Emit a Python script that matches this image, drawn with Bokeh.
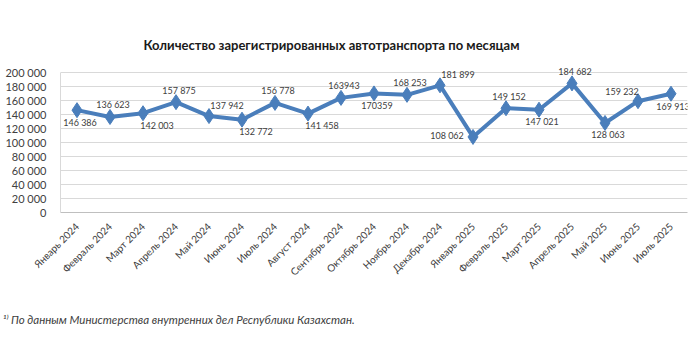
import math
from bokeh.plotting import figure
from bokeh.models import ColumnDataSource, FactorRange, Range1d, Title, FixedTicker
from bokeh.embed import file_html
from bokeh.resources import INLINE

months = ["Январь 2024", "Февраль 2024", "Март 2024", "Апрель 2024", "Май 2024",
          "Июнь 2024", "Июль 2024", "Август 2024", "Сентябрь 2024", "Октябрь 2024",
          "Ноябрь 2024", "Декабрь 2024", "Январь 2025", "Февраль 2025", "Март 2025",
          "Апрель 2025", "Май 2025", "Июнь 2025", "Июль 2025"]
vehicles = [146386, 136623, 142003, 157875, 137942, 132772, 156778, 141458, 163943,
            170359, 168253, 181899, 108062, 149152, 147021, 184682, 128063, 159232, 169913]
value_labels = ["146 386", "136 623", "142 003", "157 875", "137 942", "132 772", "156 778",
                "141 458", "163943", "170359", "168 253", "181 899", "108 062", "149 152",
                "147 021", "184 682", "128 063", "159 232", "169 913"]
y_ticks = [0, 20000, 40000, 60000, 80000, 100000, 120000, 140000, 160000, 180000, 200000]
y_tick_labels = ["0", "20 000", "40 000", "60 000", "80 000", "100 000", "120 000",
                 "140 000", "160 000", "180 000", "200 000"]

title_text = "Количество зарегистрированных автотранспорта по месяцам"
footnote_text = "¹⁾ По данным Министерства внутренних дел Республики Казахстан."

# label placement (style)
placement = ["below", "above", "below_r", "above", "above_r", "below_r", "above", "below_r",
             "above", "below", "above", "above_r", "left", "above", "below", "above",
             "below", "above_l", "right"]
offsets = {
    "below": (3, -12), "above": (3, 12), "below_r": (14, -12), "above_r": (18, 11),
    "above_l": (-16, 10), "left": (-26, 1), "right": (2, -13),
}

FONT = "Lato"
BLUE = "#4A7EBB"
TXT = "#404040"

p = figure(width=700, height=351, x_range=FactorRange(*months, range_padding=0),
           y_range=Range1d(0, 226000), output_backend="svg", toolbar_location=None,
           min_border_left=60, min_border_right=13, min_border_top=54, min_border_bottom=137)
p.outline_line_color = None
p.background_fill_color = "white"
p.border_fill_color = "white"

p.xgrid.grid_line_color = None
p.ygrid.grid_line_color = "#D9D9D9"
p.ygrid.grid_line_width = 1.2

p.yaxis.ticker = FixedTicker(ticks=y_ticks)
p.yaxis.bounds = (y_ticks[0], y_ticks[-1])
p.yaxis.major_label_overrides = {t: l for t, l in zip(y_ticks, y_tick_labels)}
p.yaxis.major_tick_line_color = None
p.yaxis.minor_tick_line_color = None
p.yaxis.axis_line_color = "#D9D9D9"
p.yaxis.major_label_text_font = FONT
p.yaxis.major_label_text_font_size = "11px"
p.yaxis.major_label_text_color = TXT
p.yaxis.major_label_standoff = 8

p.xaxis.axis_line_color = "#BFBFBF"
p.xaxis.major_tick_line_color = None
p.xaxis.minor_tick_line_color = None
p.xaxis.major_label_orientation = math.pi / 4
p.xaxis.major_label_text_font = FONT
p.xaxis.major_label_text_font_size = "10px"
p.xaxis.major_label_text_color = TXT
p.xaxis.major_label_standoff = 6

xo = [offsets[k][0] for k in placement]
yo = [-offsets[k][1] for k in placement]
src = ColumnDataSource(dict(x=months, y=vehicles, lab=value_labels, xo=xo, yo=yo))

p.line("x", "y", source=src, line_color=BLUE, line_width=4)
p.scatter("x", "y", source=src, marker="diamond", size=15, fill_color=BLUE, line_color=BLUE)
p.text("x", "y", text="lab", source=src, x_offset="xo", y_offset="yo",
       text_align="center", text_baseline="middle", text_font_size="9px",
       text_color=TXT, text_font={"value": FONT})

p.add_layout(Title(text=title_text, align="left", offset=83, text_font=FONT,
                   text_font_style="bold", text_font_size="13px", text_color="#1a1a1a",
                   standoff=3), "above")
p.add_layout(Title(text=footnote_text, align="left", offset=-58, text_font=FONT,
                   text_font_style="italic", text_font_size="11.5px", text_color=TXT,
                   standoff=52), "below")

open("out.html", "w").write(file_html(p, INLINE))
